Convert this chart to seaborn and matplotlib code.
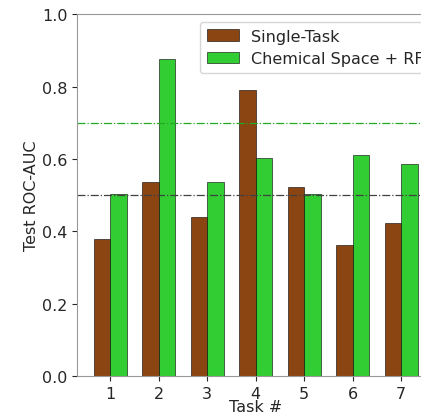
import numpy as np
import pandas as pd
import seaborn as sns
from matplotlib import pyplot as plt

tasks = ['1', '2', '3', '4', '5', '6', '7']
single_task = [0.378, 0.536, 0.439, 0.790, 0.522, 0.362, 0.423]
chem_space_rf = [0.503, 0.876, 0.536, 0.602, 0.503, 0.610, 0.586]
labels = ['Single-Task', 'Chemical Space + RF']
colors = ['#8B4513', '#32CD32']

df = pd.DataFrame({
    'task': tasks * 2,
    'auc': single_task + chem_space_rf,
    'model': [labels[0]] * len(tasks) + [labels[1]] * len(tasks),
})

sns.set_style('ticks')
plt.rcParams['font.family'] = ['DejaVu Sans']

fig = plt.figure(figsize=(4.21, 4.14), dpi=100)
# axes run past the right edge, like the cropped original
ax = fig.add_axes([0.183, 0.0894, 0.848, 0.874])

sns.barplot(data=df, x='task', y='auc', hue='model', palette=colors,
            saturation=1, width=0.68, edgecolor='black', linewidth=0.4, ax=ax)

ax.axhline(0.5, color='0.25', linestyle='-.', linewidth=0.9)
ax.axhline(0.7, color='#22aa22', linestyle='-.', linewidth=0.9)

ax.set_ylim(0, 1.0)
ax.set_xlim(-0.68, 6.68)
ax.set_yticks([0.0, 0.2, 0.4, 0.6, 0.8, 1.0])
ax.tick_params(labelsize=11.5)
for s in ax.spines.values():
    s.set_color('0.6')
ax.set_xlabel('Task #', fontsize=11.5, labelpad=-1)
ax.set_ylabel('Test ROC-AUC', fontsize=11.5, labelpad=2)
ax.legend(loc='upper left', bbox_to_anchor=(0.345, 0.978), borderaxespad=0,
          fontsize=11.5, title=None)

fig.savefig('out.png', dpi=100)
